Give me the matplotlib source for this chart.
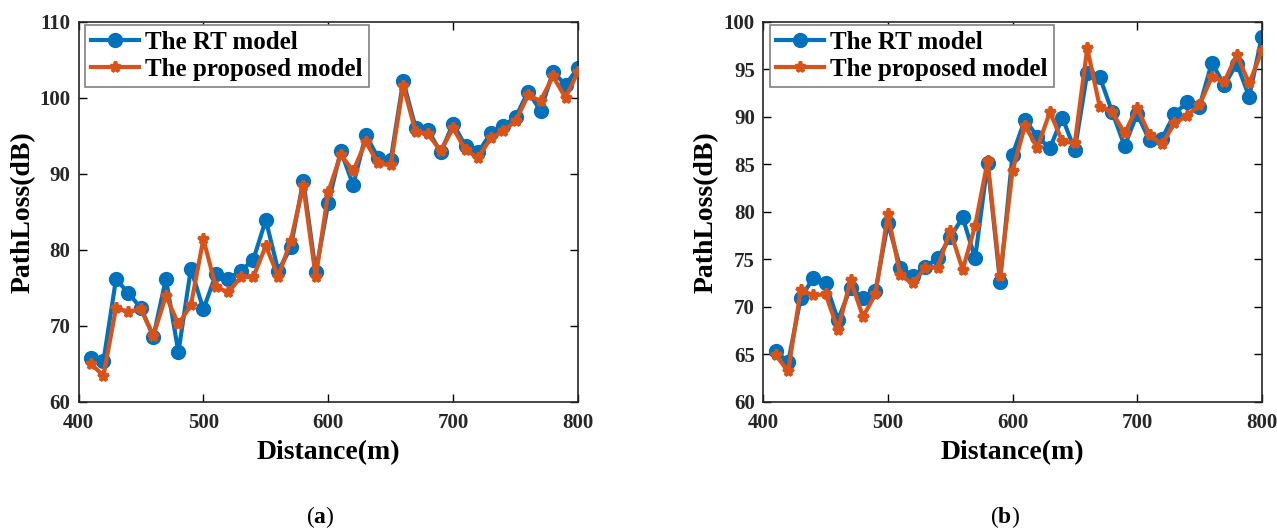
import matplotlib
matplotlib.use("Agg")
import matplotlib.pyplot as plt
import numpy as np

distance = list(range(410, 801, 10))

rt_a = [65.7, 65.35, 76.1, 74.3, 72.3, 68.55, 76.2, 66.5, 77.5, 72.15,
        76.75, 76.2, 77.2, 78.7, 83.9, 77.2, 80.3, 89.1, 77.1, 86.1,
        93.0, 88.5, 95.1, 92.1, 91.8, 102.2, 96.05, 95.75, 92.8, 96.6,
        93.6, 92.8, 95.3, 96.3, 97.4, 100.8, 98.3, 103.4, 101.7, 103.9]
prop_a = [65.0, 63.4, 72.3, 71.85, 72.15, 68.7, 73.95, 70.2, 72.7, 81.4,
          75.1, 74.4, 76.4, 76.4, 80.5, 76.45, 81.2, 88.4, 76.4, 87.6,
          92.5, 90.35, 94.2, 91.35, 91.1, 101.6, 95.5, 95.2, 93.0, 96.0,
          93.1, 92.1, 94.65, 95.6, 96.9, 100.3, 99.6, 102.8, 100.0, 103.4]

rt_b = [65.3, 64.2, 70.9, 73.0, 72.45, 68.6, 72.0, 70.9, 71.65, 78.8,
        74.1, 73.25, 74.2, 75.1, 77.3, 79.4, 75.1, 85.1, 72.6, 86.0,
        89.7, 87.9, 86.7, 89.9, 86.5, 94.6, 94.2, 90.5, 86.9, 90.3,
        87.5, 87.7, 90.3, 91.5, 91.05, 95.7, 93.3, 95.6, 92.1, 98.4]
prop_b = [64.9, 63.2, 71.75, 71.2, 71.3, 67.6, 72.8, 68.95, 71.3, 79.75,
          73.3, 72.45, 74.1, 74.1, 78.0, 73.9, 78.5, 85.3, 73.2, 84.3,
          89.05, 86.75, 90.5, 87.4, 87.2, 97.2, 91.05, 90.5, 88.25, 90.95,
          88.1, 87.1, 89.3, 90.1, 91.2, 94.2, 93.7, 96.5, 93.5, 96.9]

series_labels = ["The RT model", "The proposed model"]
captions = ["a", "b"]

plt.rcParams['font.family'] = ['Liberation Serif', 'DejaVu Serif']
plt.rcParams['mathtext.fontset'] = 'custom'
plt.rcParams['mathtext.bf'] = 'Liberation Serif:bold'
plt.rcParams['mathtext.rm'] = 'Liberation Serif'

BLUE = '#0072BD'
ORANGE = '#D95319'

fig = plt.figure(figsize=(12.77, 5.29), dpi=100)
W, H = 1277, 529
axes_px = [(78.5, 578), (763.3, 1261.7)]
top_px, bot_px = 21.7, 401.7

configs = [
    (rt_a, prop_a, (60, 110), np.arange(60, 111, 10)),
    (rt_b, prop_b, (60, 100), np.arange(60, 101, 5)),
]

for i, ((x0, x1), (rt, pr, ylim, yt)) in enumerate(zip(axes_px, configs)):
    aw = x1 - x0
    ah = bot_px - top_px
    ax = fig.add_axes([x0 / W, 1 - bot_px / H, aw / W, ah / H])
    ax.plot(distance, rt, '-o', color=BLUE, lw=3, ms=10, label=series_labels[0], zorder=2)
    ax.plot(distance, pr, '-*', color=ORANGE, lw=3, ms=8, mew=2.5, label=series_labels[1], zorder=3)
    ax.set_xlim(400, 800)
    ax.set_ylim(*ylim)
    ax.set_xticks([400, 500, 600, 700, 800])
    ax.set_yticks(yt)
    ax.tick_params(direction='in', top=True, right=True, length=6, width=1, labelsize=15)
    ax.tick_params(axis='x', pad=8)
    ax.tick_params(axis='y', pad=6)
    for lbl in ax.get_xticklabels() + ax.get_yticklabels():
        lbl.set_fontweight('bold')
        lbl.set_color('#262626')
    for sp in ax.spines.values():
        sp.set_linewidth(1.2)
        sp.set_color('#262626')
    ax.set_xlabel('Distance(m)', fontsize=20, fontweight='bold')
    ax.set_ylabel('PathLoss(dB)', fontsize=20, fontweight='bold')
    ax.xaxis.set_label_coords(0.5, -(440 - bot_px) / ah)
    ax.yaxis.set_label_coords(-(x0 - 35.5) / aw if i == 0 else -(x0 - 719) / aw, 0.5)
    leg = ax.legend(loc='upper left',
                    bbox_to_anchor=((6.5) / aw, 1 - 3.3 / ah),
                    prop={'weight': 'bold', 'size': 18},
                    fancybox=False, framealpha=1, edgecolor='#808080',
                    borderpad=0.25, labelspacing=0.15, handlelength=1.9,
                    handletextpad=0.25, borderaxespad=0)
    leg.get_frame().set_linewidth(1.2)
    cx = (x0 + x1) / 2 - 8
    fig.text(cx / W, 1 - 517 / H, r'($\mathbf{%s}$)' % captions[i], ha='center', va='center', fontsize=17)

fig.savefig('out.png', dpi=100)
